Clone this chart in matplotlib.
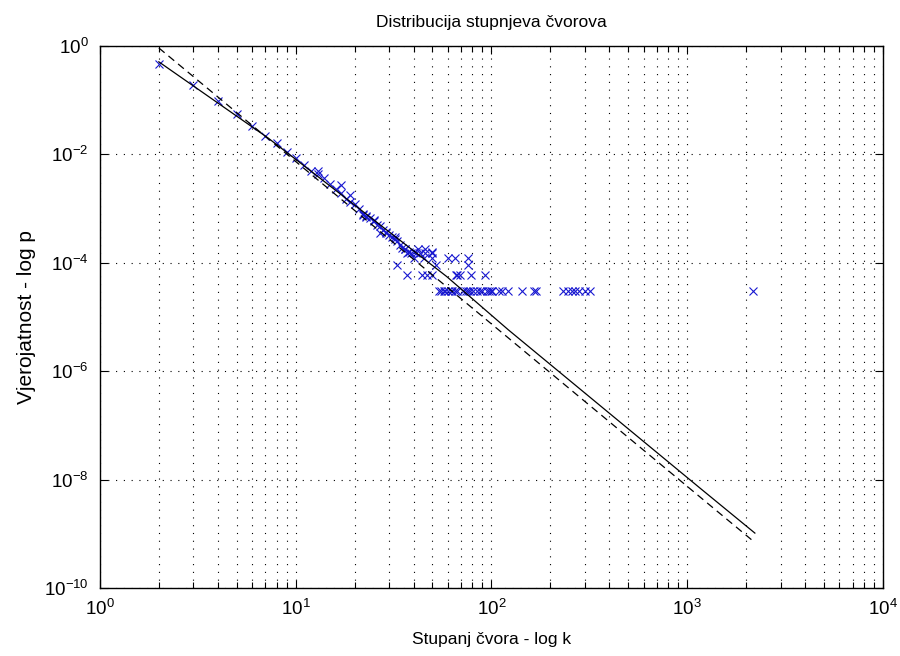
import numpy as np
import matplotlib
matplotlib.use("Agg")
import matplotlib.pyplot as plt
from matplotlib.ticker import LogLocator, NullLocator, NullFormatter

plt.rcParams["font.family"] = ["Liberation Sans", "DejaVu Sans"]
plt.rcParams["mathtext.fontset"] = "custom"
plt.rcParams["mathtext.rm"] = "Liberation Sans"
plt.rcParams["axes.unicode_minus"] = False

# --- degree distribution ---
# points that follow the fitted curve (one per degree, plus a few repeats)
deg_main = [2, 3, 4, 5, 6, 7, 8, 9, 10, 11, 12, 13, 14, 15, 16, 17, 18, 19, 20,
            21, 22, 23, 24, 25, 26, 27, 28, 29, 30, 31, 32, 33, 34, 35, 36, 37,
            38, 39, 40, 13, 17, 19, 22, 23, 25, 27, 29, 32, 36, 40, 42, 46, 50]
p_main = [0.47, 0.19, 0.098, 0.055, 0.034, 0.022, 0.016, 0.011, 0.0085, 0.0064,
          0.0050, 0.0043, 0.0036, 0.0028, 0.0023, 0.0019, 0.0015, 0.0013, 0.0012,
          9.8e-4, 8.0e-4, 7.2e-4, 6.8e-4, 5.8e-4, 5.0e-4, 4.7e-4, 4.0e-4, 3.7e-4,
          3.3e-4, 3.0e-4, 2.7e-4, 2.5e-4, 2.1e-4, 1.9e-4, 1.8e-4, 1.5e-4, 1.6e-4,
          1.5e-4, 1.25e-4, 5.0e-3, 2.7e-3, 1.8e-3, 7.6e-4, 7.0e-4, 6.2e-4, 3.5e-4,
          3.6e-4, 3.0e-4, 1.8e-4, 1.6e-4, 1.8e-4, 1.8e-4, 1.6e-4]

# tail: degrees that appear only a few times (levels 1..5 nodes)
deg_tail = [41, 43, 46, 50,
            45, 50, 60, 65, 76,
            33, 52, 76,
            37, 44, 47, 50, 66, 67, 69, 79, 93,
            54, 55, 57, 58, 60, 62, 63, 65, 67, 72, 74, 76, 78, 81, 84, 87, 90,
            95, 97, 99, 101, 109, 113, 121, 143, 165, 168, 232, 245, 258, 268,
            280, 300, 318, 2175]
p_tail = [1.52e-4] * 4 + [1.21e-4] * 5 + [9.1e-5] * 3 + [6.06e-5] * 9 + [3.03e-5] * 35

# fitted curves (read-off points)
fit_k = [2, 7.25, 10.1, 59, 122, 1161, 2218]
fit_p = [0.51, 0.0199, 0.0079, 5.6e-5, 5.8e-6, 7.0e-9, 1.03e-9]
ref_k = [2, 2218]
ref_p = [0.92, 6.9e-10]

fig = plt.figure(figsize=(9, 6.56), dpi=100)
ax = fig.add_axes([0.111, 0.1037, 0.870, 0.8262])

ax.loglog(deg_main + deg_tail, p_main + p_tail, "x", color="#1818d0",
          markersize=6, markeredgewidth=0.8, zorder=3)
ax.loglog(fit_k, fit_p, "-", color="black", linewidth=0.9, zorder=4)
ax.loglog(ref_k, ref_p, "--", color="black", linewidth=0.9,
          dashes=(6, 4), zorder=4)

ax.set_xlim(1, 1e4)
ax.set_ylim(1e-10, 1)
ax.xaxis.set_major_locator(LogLocator(base=10, numticks=10))
ax.xaxis.set_minor_locator(LogLocator(base=10, subs=np.arange(2, 10), numticks=20))
ax.xaxis.set_minor_formatter(NullFormatter())
ax.set_yticks([1e-10, 1e-8, 1e-6, 1e-4, 1e-2, 1])
ax.yaxis.set_minor_locator(NullLocator())

ax.grid(True, which="major", color="black", linestyle=(0, (1, 6)), linewidth=0.8)
ax.grid(True, which="minor", axis="x", color="black", linestyle=(0, (1, 6)),
        linewidth=0.8)

ax.tick_params(which="both", direction="in", top=True, right=True,
               labelsize=13.5, width=0.8)
ax.tick_params(which="major", length=6, pad=8)
ax.tick_params(which="minor", length=4)
for s in ax.spines.values():
    s.set_linewidth(1.0)

ax.set_title("Distribucija stupnjeva čvorova", fontsize=12.5, pad=14)
ax.set_xlabel("Stupanj čvora - log k", fontsize=12.5, labelpad=9)
ax.set_ylabel("Vjerojatnost - log p", fontsize=15, labelpad=6)

fig.savefig("out.png", dpi=100)
